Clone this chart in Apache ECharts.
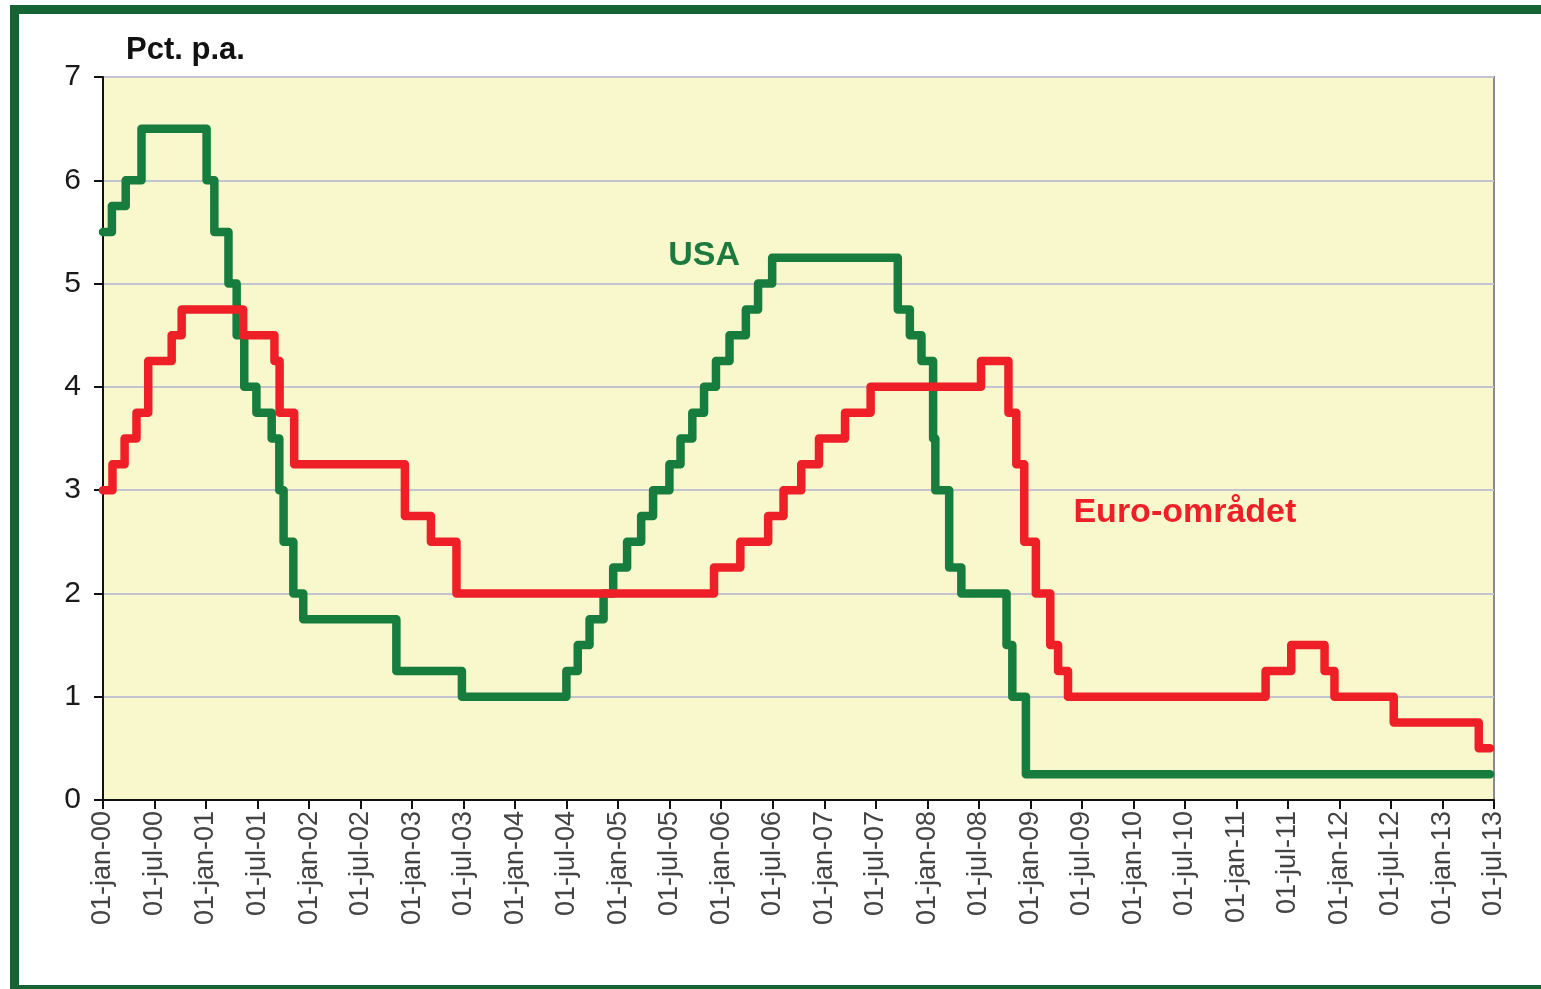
<!DOCTYPE html>
<html>
<head>
<meta charset="utf-8">
<script src="https://cdn.jsdelivr.net/npm/echarts@6/dist/echarts.min.js"></script>
<style>
  html, body { margin: 0; padding: 0; background: #fff; overflow: hidden; }
  #chart { position: absolute; left: 0; top: 0; width: 1541px; height: 989px; }
  #frame {
    position: absolute; left: 10px; top: 5px; right: -30px; bottom: -5px;
    border: 9px solid #156436; pointer-events: none;
  }
</style>
</head>
<body>
<div id="chart"></div>
<div id="frame"></div>
<script>
// x-akse: halvårlige tick-labels (01-jan-00 .. 01-jul-13)
const tickLabels = [
  '01-jan-00', '01-jul-00', '01-jan-01', '01-jul-01', '01-jan-02', '01-jul-02',
  '01-jan-03', '01-jul-03', '01-jan-04', '01-jul-04', '01-jan-05', '01-jul-05',
  '01-jan-06', '01-jul-06', '01-jan-07', '01-jul-07', '01-jan-08', '01-jul-08',
  '01-jan-09', '01-jul-09', '01-jan-10', '01-jul-10', '01-jan-11', '01-jul-11',
  '01-jan-12', '01-jul-12', '01-jan-13', '01-jul-13'
];
const yTicks = [0, 1, 2, 3, 4, 5, 6, 7];

// USA: datoer for renteændringer og niveau
const usaDates = [
  '2000-01-01', '2000-02-02', '2000-03-21', '2000-05-16',
  '2001-01-03', '2001-01-31', '2001-03-20', '2001-04-18', '2001-05-15',
  '2001-06-27', '2001-08-21', '2001-09-17', '2001-10-02', '2001-11-06',
  '2001-12-11', '2002-11-06', '2003-06-25',
  '2004-06-30', '2004-08-10', '2004-09-21', '2004-11-10', '2004-12-14',
  '2005-02-02', '2005-03-22', '2005-05-03', '2005-06-30', '2005-08-09',
  '2005-09-20', '2005-11-01', '2005-12-13', '2006-01-31', '2006-03-28',
  '2006-05-10', '2006-06-29',
  '2007-09-18', '2007-10-31', '2007-12-11', '2008-01-22', '2008-01-30',
  '2008-03-18', '2008-04-30', '2008-10-08', '2008-10-29', '2008-12-16',
  '2013-06-17'
];
const usaRates = [
  5.50, 5.75, 6.00, 6.50,
  6.00, 5.50, 5.00, 4.50, 4.00,
  3.75, 3.50, 3.00, 2.50, 2.00,
  1.75, 1.25, 1.00,
  1.25, 1.50, 1.75, 2.00, 2.25,
  2.50, 2.75, 3.00, 3.25, 3.50,
  3.75, 4.00, 4.25, 4.50, 4.75,
  5.00, 5.25,
  4.75, 4.50, 4.25, 3.50, 3.00,
  2.25, 2.00, 1.50, 1.00, 0.25,
  0.25
];

// Euro-området: datoer for renteændringer og niveau
const euroDates = [
  '2000-01-01', '2000-02-04', '2000-03-17', '2000-04-28', '2000-06-09',
  '2000-09-01', '2000-10-06',
  '2001-05-11', '2001-08-31', '2001-09-18', '2001-11-09',
  '2002-12-06', '2003-03-07', '2003-06-06',
  '2005-12-06', '2006-03-08', '2006-06-15', '2006-08-09', '2006-10-11',
  '2006-12-13', '2007-03-14', '2007-06-13',
  '2008-07-09', '2008-10-15', '2008-11-12', '2008-12-10',
  '2009-01-21', '2009-03-11', '2009-04-08', '2009-05-13',
  '2011-04-13', '2011-07-13', '2011-11-09', '2011-12-14',
  '2012-07-11', '2013-05-08', '2013-06-17'
];
const euroRates = [
  3.00, 3.25, 3.50, 3.75, 4.25,
  4.50, 4.75,
  4.50, 4.25, 3.75, 3.25,
  2.75, 2.50, 2.00,
  2.25, 2.50, 2.75, 3.00, 3.25,
  3.50, 3.75, 4.00,
  4.25, 3.75, 3.25, 2.50,
  2.00, 1.50, 1.25, 1.00,
  1.25, 1.50, 1.25, 1.00,
  0.75, 0.50, 0.50
];

// dato -> måneder siden 1. jan 2000
function toMonths(s) {
  const [y, m, d] = s.split('-').map(Number);
  const days = new Date(y, m, 0).getDate();
  return (y - 2000) * 12 + (m - 1) + (d - 1) / days;
}
const toSeries = (dates, rates) => dates.map((d, i) => [toMonths(d), rates[i]]);

const chart = echarts.init(document.getElementById('chart'));
const font = 'Liberation Sans, Arial, sans-serif';

const option = {
  backgroundColor: 'transparent',
  animation: false,
  title: {
    text: 'Pct. p.a.',
    left: 121,
    top: 30,
    textStyle: { fontFamily: font, fontSize: 31, fontWeight: 'bold', color: '#111' }
  },
  grid: {
    left: 103, top: 77, width: 1391, height: 723,
    show: true,
    backgroundColor: '#f9f7cc',
    borderColor: '#8a8a8a',
    borderWidth: 2,
    outerBoundsMode: 'none'
  },
  xAxis: {
    type: 'value',
    min: 0,
    max: (tickLabels.length - 1) * 6,
    interval: 6,
    axisLine: { onZero: false, lineStyle: { color: '#111', width: 2 } },
    axisTick: { show: true, length: 9, lineStyle: { color: '#111', width: 2 } },
    splitLine: { show: false },
    axisLabel: {
      rotate: 90,
      margin: 11,
      fontFamily: font,
      fontSize: 27,
      color: '#444',
      formatter: v => tickLabels[Math.round(v / 6)] || ''
    }
  },
  yAxis: {
    type: 'value',
    min: yTicks[0],
    max: yTicks[yTicks.length - 1],
    interval: 1,
    axisLine: { show: true, lineStyle: { color: '#111', width: 2 } },
    axisTick: { show: true, length: 9, lineStyle: { color: '#111', width: 2 } },
    splitLine: { show: true, lineStyle: { color: '#c4c4d0', width: 2 } },
    axisLabel: {
      margin: 22,
      fontFamily: font,
      fontSize: 30,
      color: '#1a1a1a'
    }
  },
  series: [
    {
      name: 'USA',
      type: 'line',
      step: 'end',
      showSymbol: false,
      data: toSeries(usaDates, usaRates),
      lineStyle: { color: '#167d3e', width: 8.5, cap: 'round', join: 'round' },
      markPoint: {
        symbol: 'circle',
        symbolSize: 1,
        itemStyle: { color: 'transparent' },
        label: {
          show: true, position: 'inside',
          fontFamily: font, fontSize: 34, fontWeight: 'bold', color: '#1d7a3e'
        },
        data: [{ coord: [70, 5.27], label: { formatter: 'USA' } }]
      }
    },
    {
      name: 'Euro-området',
      type: 'line',
      step: 'end',
      showSymbol: false,
      data: toSeries(euroDates, euroRates),
      lineStyle: { color: '#ee1f27', width: 8.5, cap: 'round', join: 'round' },
      markPoint: {
        symbol: 'circle',
        symbolSize: 1,
        itemStyle: { color: 'transparent' },
        label: {
          show: true, position: 'inside',
          fontFamily: font, fontSize: 34, fontWeight: 'bold', color: '#ee1f27'
        },
        data: [{ coord: [126, 2.78], label: { formatter: 'Euro-området' } }]
      }
    }
  ]
};

chart.setOption(option);
</script>
</body>
</html>
